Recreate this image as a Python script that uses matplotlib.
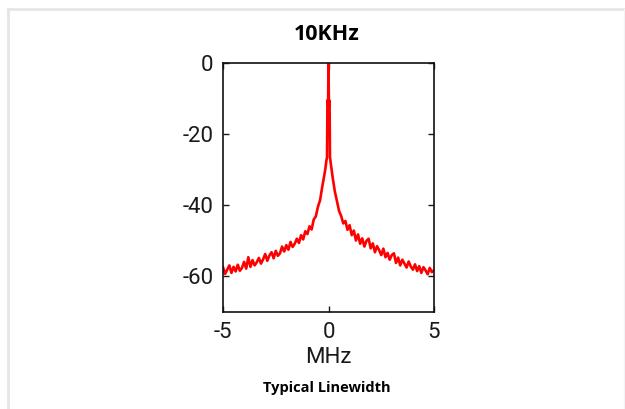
import matplotlib
matplotlib.use("Agg")
import matplotlib.pyplot as plt
from matplotlib.lines import Line2D

plt.rcParams["axes.unicode_minus"] = False

# spectrum (MHz offset, dB)
freq_left = [-5.0, -4.9, -4.8, -4.7, -4.6, -4.5, -4.4, -4.3, -4.2, -4.1,
             -4.0, -3.9, -3.8, -3.7, -3.6, -3.5, -3.4, -3.3, -3.2, -3.1,
             -3.0, -2.9, -2.8, -2.7, -2.6, -2.5, -2.4, -2.3, -2.2, -2.1,
             -2.0, -1.9, -1.8, -1.7, -1.6, -1.5, -1.4, -1.3, -1.2, -1.1,
             -1.0, -0.9, -0.8, -0.7, -0.6, -0.5, -0.4, -0.3, -0.2]
level_left = [-57.4, -59.3, -58.1, -56.9, -59.0, -57.3, -58.6, -56.7, -58.4, -57.6,
              -55.9, -57.8, -54.6, -57.3, -55.4, -56.9, -56.0, -54.8, -56.4, -55.2,
              -53.7, -55.6, -54.1, -53.2, -54.9, -52.8, -54.2, -53.5, -51.6, -53.0,
              -51.2, -52.5, -50.3, -51.7, -50.8, -49.4, -50.6, -48.4, -49.6, -47.3,
              -48.1, -45.9, -46.8, -44.0, -43.1, -40.4, -38.6, -34.9, -31.6]

freq_peak = [-0.15, -0.1, -0.07, -0.05, -0.02, 0.0, 0.02, 0.05, 0.07, 0.1, 0.15]
level_peak = [-29.8, -27.4, -26.6, -10.5, -11.8, 0.0, -12.2, -10.6, -26.4, -27.9, -30.1]

freq_right = [0.2, 0.3, 0.4, 0.5, 0.6, 0.7, 0.8, 0.9, 1.0, 1.1,
              1.2, 1.3, 1.4, 1.5, 1.6, 1.7, 1.8, 1.9, 2.0, 2.1,
              2.2, 2.3, 2.4, 2.5, 2.6, 2.7, 2.8, 2.9, 3.0, 3.1,
              3.2, 3.3, 3.4, 3.5, 3.6, 3.7, 3.8, 3.9, 4.0, 4.1,
              4.2, 4.3, 4.4, 4.5, 4.6, 4.7, 4.8, 4.9, 5.0]
level_right = [-32.3, -36.1, -38.8, -41.6, -43.0, -45.1, -44.4, -46.9, -45.6, -48.4,
               -47.1, -49.9, -48.2, -50.8, -49.3, -51.6, -50.0, -49.4, -52.1, -50.7,
               -53.2, -51.5, -52.6, -54.0, -52.2, -54.6, -53.4, -55.3, -54.0, -53.5,
               -56.2, -54.7, -56.9, -55.3, -56.4, -57.5, -55.8, -57.2, -58.1, -56.6,
               -58.5, -57.1, -59.0, -57.4, -58.3, -59.4, -57.6, -58.8, -58.2]

x_ticks = [-5, 0, 5]
y_ticks = [0, -20, -40, -60]

freq = freq_left + freq_peak + freq_right
level = level_left + level_peak + level_right

tick_font = ["Roboto", "Liberation Sans", "DejaVu Sans"]

fig = plt.figure(figsize=(6.25, 4.09), dpi=100)
fig.patch.set_facecolor("white")

# light frame (top, left and a faint right edge)
frame = "#e3e6ea"
fig.lines.append(Line2D([8 / 625, 1], [1 - 9 / 409, 1 - 9 / 409], transform=fig.transFigure,
                        color=frame, linewidth=2))
fig.lines.append(Line2D([8 / 625, 8 / 625], [0, 1 - 9 / 409], transform=fig.transFigure,
                        color=frame, linewidth=2))
fig.lines.append(Line2D([623.5 / 625, 623.5 / 625], [0, 1 - 9 / 409], transform=fig.transFigure,
                        color="#f3f4f6", linewidth=1))

ax = fig.add_axes([223 / 625, 97 / 409, 211 / 625, 249 / 409])
ax.plot(freq, level, color="#ff0000", linewidth=1.9)
ax.set_xlim(-5, 5)
ax.set_ylim(-70, 0)
ax.set_xticks(x_ticks)
ax.set_yticks(y_ticks)
ax.tick_params(direction="in", length=4, width=1, top=True, right=True,
               labelsize=16, pad=7, colors="#1a1a1a")
for lab in ax.get_xticklabels() + ax.get_yticklabels():
    lab.set_family(tick_font)
for s in ax.spines.values():
    s.set_linewidth(1.2)
    s.set_color("#111111")

ax.set_xlabel("MHz", fontsize=16, family=tick_font, color="#1a1a1a", labelpad=3)

fig.text(327 / 625, 1 - 35 / 409, "10KHz", ha="center", va="center",
         fontsize=15.5, fontweight="bold", family="Open Sans")
fig.text(327 / 625, 1 - 388 / 409, "Typical Linewidth", ha="center", va="center",
         fontsize=10.5, fontweight="bold", family="Open Sans")

fig.savefig("out.png", dpi=100)
